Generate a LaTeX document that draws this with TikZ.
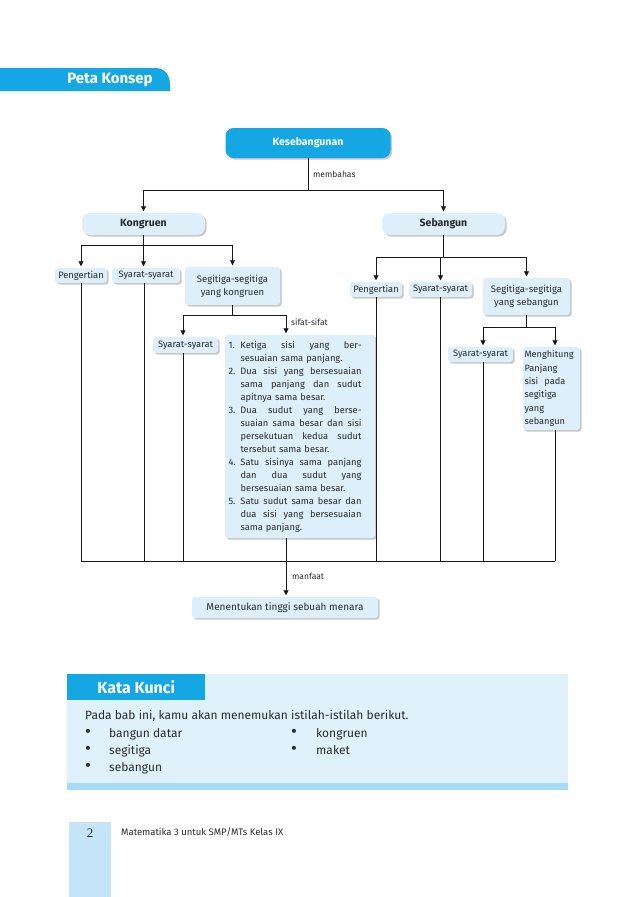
\documentclass[tikz,border=0pt]{standalone}
\usepackage{fontspec}
\usepackage{graphicx}
\setmainfont{Fira Sans}
\newfontfamily\serifnum{Liberation Serif}
\usetikzlibrary{arrows.meta,shadows}
\definecolor{cyanA}{HTML}{14A7E3}
\definecolor{lblue}{HTML}{DCEFFA}
\definecolor{kkbg}{HTML}{DFF2FC}
\definecolor{kkstripe}{HTML}{A6DDF5}
\definecolor{foot}{HTML}{C4E5F7}
\definecolor{txt}{HTML}{2A2A2A}
\newcommand\jl[1]{{\spaceskip=0pt\xspaceskip=0pt\sbox0{#1}\ifdim\wd0>121pt \resizebox{121pt}{\height}{#1}\else\makebox[121pt][s]{#1}\fi}}
\newcommand\nr[1]{\makebox[12pt][l]{#1}}
\newcommand\ind{\hspace*{12pt}}
\newcommand\bul{\scalebox{1.5}{\textbullet}}
\tikzset{
  shad/.style={drop shadow={shadow xshift=1.6pt,shadow yshift=-1.6pt,fill=black!22,opacity=1}},
  lbox/.style={fill=lblue,rounded corners=3pt,shad,inner sep=0pt,text=txt,font=\fontsize{9.3}{13}\selectfont},
  hbox/.style={lbox,rounded corners=8pt,font=\bfseries\fontsize{10.5}{12}\selectfont},
  kesbox/.style={fill=cyanA,rounded corners=8pt,shad,inner sep=0pt,text=white,font=\bfseries\fontsize{10.5}{12}\selectfont},
  ln/.style={line width=0.8pt,draw=black!90},
  arr/.style={-{Triangle[length=5pt,width=5pt]},shorten >=1.5pt},
  lab/.style={anchor=west,inner sep=0pt,text=txt,font=\fontsize{8.5}{10}\selectfont},
  kk/.style={anchor=base west,inner sep=0pt,text=txt,font=\fontsize{12}{14}\selectfont},
  kkb/.style={anchor=center,inner sep=0pt,text=txt,font=\fontsize{12}{14}\selectfont},
}
\begin{document}
\begin{tikzpicture}[x=1pt,y=-1pt]
\useasboundingbox[fill=white] (0,0) rectangle (638,897);
% header tab
\fill[cyanA] (0,68) -- (155,68) .. controls (165,68) and (170,75) .. (170,85) -- (170,91) -- (0,91) -- cycle;
\node[inner sep=0pt,text=white,font=\bfseries\fontsize{15}{17}\selectfont] (peta) at (110,80) {Peta Konsep};
% main nodes
\node[kesbox,minimum width=165,minimum height=30] (kes) at (308,143) {Kesebangunan};
\node[hbox,minimum width=123,minimum height=22] (kon) at (143.5,224) {Kongruen};
\node[hbox,minimum width=123,minimum height=22] (seb) at (443.5,224) {Sebangun};
\node[lbox,minimum width=52,minimum height=15] (p1) at (81,275.5) {Pengertian};
\node[lbox,minimum width=68,minimum height=15] (s1) at (146,275.5) {Syarat-syarat};
\node[lbox,minimum width=95,minimum height=38,align=center,font=\fontsize{9.5}{13}\selectfont] (sk) at (232.5,286) {Segitiga-segitiga\\yang kongruen};
\node[lbox,minimum width=52,minimum height=15] (p2) at (376,289.5) {Pengertian};
\node[lbox,minimum width=63,minimum height=15] (s2) at (440.5,289.5) {Syarat-syarat};
\node[lbox,minimum width=87,minimum height=37,align=center,font=\fontsize{9.5}{13}\selectfont] (ss) at (526.5,296.5) {Segitiga-segitiga\\yang sebangun};
\node[lbox,minimum width=65,minimum height=16] (s3) at (185.5,345) {Syarat-syarat};
\node[lbox,minimum width=150,minimum height=203,text width=143pt,inner xsep=3.5pt,align=left,font=\fontsize{9.3}{13}\selectfont] (big) at (300,436.5) {%
\nr{1.}\jl{Ketiga sisi yang ber-}\\
\ind sesuaian sama panjang.\\
\nr{2.}\jl{Dua sisi yang bersesuaian}\\
\ind\jl{sama panjang dan sudut}\\
\ind apitnya sama besar.\\
\nr{3.}\jl{Dua sudut yang berse-}\\
\ind\jl{suaian sama besar dan sisi}\\
\ind\jl{persekutuan kedua sudut}\\
\ind tersebut sama besar.\\
\nr{4.}\jl{Satu sisinya sama panjang}\\
\ind\jl{dan dua sudut yang}\\
\ind bersesuaian sama besar.\\
\nr{5.}\jl{Satu sudut sama besar dan}\\
\ind\jl{dua sisi yang bersesuaian}\\
\ind sama panjang.};
\node[lbox,minimum width=65,minimum height=15] (s4) at (480.5,354.5) {Syarat-syarat};
\node[lbox,minimum width=57,minimum height=83,text width=54pt,inner xsep=1.5pt,align=left,font=\fontsize{9.2}{13.4}\selectfont] (mh) at (551.5,388.5) {Menghitung\\Panjang\\sisi\ \ pada\\segitiga\\yang\\sebangun};
\node[lbox,minimum width=186,minimum height=21,font=\fontsize{10}{12}\selectfont] (mt) at (285,607.5) {Menentukan tinggi sebuah menara};
% junction levels
\coordinate (y1) at (0,190);
\coordinate (y2) at (0,245);
\coordinate (y3) at (0,257);
\coordinate (y4) at (0,315);
\coordinate (y5) at (0,327);
\coordinate (y6) at (0,561);
% kes
\draw[ln] (kes.south) -- (kes.south |- y1);
\draw[ln,arr] (kes.south |- y1) -| (kon.north);
\draw[ln,arr] (kes.south |- y1) -| (seb.north);
\node[lab] (lmem) at (313,174) {membahas};
% kongruen
\draw[ln] (kon.south) -- (kon.south |- y2);
\draw[ln,arr] (kon.south |- y2) -| (p1.north);
\draw[ln,arr] (kon.south |- y2) -- (kon.south |- s1.north);
\draw[ln,arr] (kon.south |- y2) -| (sk.north);
% sebangun
\draw[ln] (seb.south) -- (seb.south |- y3);
\draw[ln,arr] (seb.south |- y3) -| (p2.north);
\draw[ln,arr] (seb.south |- y3) -| (s2.north);
\draw[ln,arr] (seb.south |- y3) -| (ss.north);
% segitiga kongruen
\draw[ln] (sk.south) -- (sk.south |- y4);
\draw[ln,arr] (sk.south |- y4) -| ([xshift=-2.5]s3.north);
\draw[ln,arr] (sk.south |- y4) -| ([xshift=-14]big.north);
\node[lab] (lsif) at (291,322) {sifat-sifat};
% segitiga sebangun
\draw[ln] (ss.south) -- (ss.south |- y5);
\draw[ln,arr] (ss.south |- y5) -| ([xshift=2.5]s4.north);
\draw[ln,arr] (ss.south |- y5) -| ([xshift=3.5]mh.north);
% bottom collectors
\draw[ln] (p1.south) -- (p1.south |- y6);
\draw[ln] ([xshift=-2]s1.south) -- ([xshift=-2]s1.south |- y6);
\draw[ln] ([xshift=-2.5]s3.south) -- ([xshift=-2.5]s3.south |- y6);
\draw[ln] (p2.south) -- (p2.south |- y6);
\draw[ln] (s2.south) -- (s2.south |- y6);
\draw[ln] ([xshift=2.5]s4.south) -- ([xshift=2.5]s4.south |- y6);
\draw[ln] ([xshift=3.5]mh.south) -- ([xshift=3.5]mh.south |- y6);
\draw[ln] (p1.south |- y6) -- ([xshift=3.5]mh.south |- y6);
\draw[ln,arr] ([xshift=-14]big.south) -- ([xshift=-14]big.south |- mt.north);
\node[lab] (lman) at (292,576) {manfaat};
% Kata Kunci
\fill[kkbg] (67,674) rectangle (568,790);
\fill[kkstripe] (67,783) rectangle (568,790);
\node[fill=cyanA,minimum width=138,minimum height=26,anchor=north west,inner sep=0pt,text=white,font=\bfseries\fontsize{16}{18}\selectfont] (kkh) at (67,674) {Kata Kunci};
\node[kk] (kk0) at (85,719) {Pada bab ini, kamu akan menemukan istilah-istilah berikut.};
\node[kkb] (b1) at (88,733) {\bul};
\node[kk] (t1) at (109,737) {bangun datar};
\node[kkb] (b2) at (88,750) {\bul};
\node[kk] (t2) at (109,754) {segitiga};
\node[kkb] (b3) at (88,767) {\bul};
\node[kk] (t3) at (109,771) {sebangun};
\node[kkb] (b4) at (294,733) {\bul};
\node[kk] (t4) at (316,737) {kongruen};
\node[kkb] (b5) at (294,750) {\bul};
\node[kk] (t5) at (316,754) {maket};
% footer
\fill[foot] (69,822) rectangle (111,897);
\node[inner sep=0pt,text=txt,font=\serifnum\fontsize{13}{15}\selectfont] (pg) at (90,833) {2};
\node[lab,font=\fontsize{9.5}{11}\selectfont] (ft) at (121,832) {Matematika 3 untuk SMP/MTs Kelas IX};
\end{tikzpicture}
\end{document}
